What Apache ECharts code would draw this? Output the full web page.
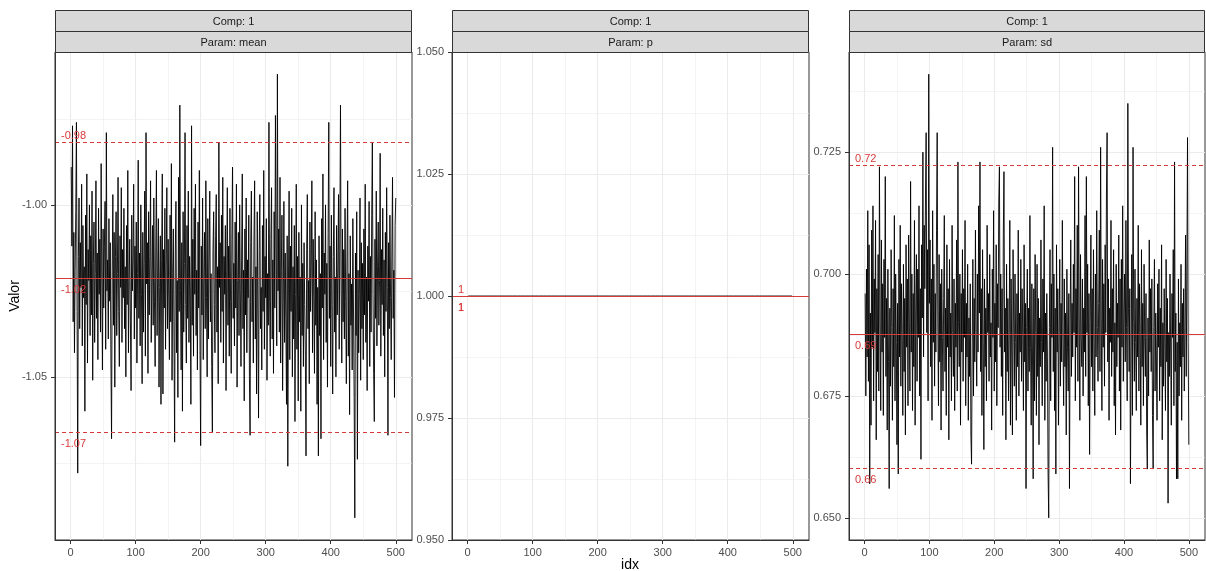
<!DOCTYPE html>
<html>
<head>
<meta charset="utf-8">
<script src="https://cdn.jsdelivr.net/npm/echarts@6/dist/echarts.min.js"></script>
<style>
  html, body { margin: 0; padding: 0; background: #ffffff; }
  #chart { width: 1206px; height: 571px; }
</style>
</head>
<body>
<div id="chart"></div>
<script>
// MCMC trace of component 1: one facet per parameter.
const stripTitle = 'Comp: 1';
const paramNames = ['mean', 'p', 'sd'];

// Draws of the "mean" parameter, iterations 1..500
const meanTrace = [
  -0.989, -1.012, -0.977, -1.034, -1.008, -1.043, -1.019, -1.002, -0.976, -1.031,
  -1.078, -1.015, -0.998, -1.036, -1.011, -1.024, -0.994, -1.041, -1.006, -1.027,
  -1.018, -1.060, -1.003, -1.029, -0.991, -1.046, -1.013, -1.022, -1.000, -1.038,
  -1.009, -1.032, -0.996, -1.051, -1.017, -1.005, -1.040, -1.020, -0.993, -1.033,
  -1.014, -1.045, -1.001, -1.026, -1.010, -1.037, -0.988, -1.021, -1.048, -1.007,
  -1.030, -1.012, -0.999, -1.042, -0.979, -1.025, -1.016, -1.039, -1.004, -1.028,
  -1.011, -1.044, -1.068, -1.019, -0.997, -1.035, -1.008, -1.053, -1.015, -1.002,
  -1.038, -1.020, -0.992, -1.031, -1.047, -1.009, -1.024, -0.995, -1.040, -1.013,
  -1.027, -1.001, -1.036, -1.018, -1.050, -1.006, -1.029, -0.990, -1.043, -1.022,
  -1.010, -1.034, -1.054, -1.003, -1.025, -1.016, -0.994, -1.039, -1.012, -1.030,
  -1.005, -1.046, -1.020, -0.987, -1.033, -1.014, -1.041, -1.000, -1.026, -1.052,
  -1.008, -1.037, -1.017, -0.996, -1.044, -0.979, -1.023, -1.011, -1.049, -1.002,
  -1.032, -1.015, -0.993, -1.040, -1.021, -1.006, -1.035, -0.998, -1.028, -1.047,
  -1.012, -0.990, -1.038, -1.019, -1.004, -1.053, -1.024, -1.009, -1.058, -1.016,
  -0.991, -1.055, -1.013, -1.030, -1.001, -1.042, -1.018, -0.995, -1.036, -1.010,
  -1.027, -1.045, -1.003, -1.034, -0.988, -1.051, -1.020, -1.007, -1.039, -1.069,
  -1.014, -0.999, -1.043, -1.022, -1.056, -0.992, -1.031, -0.971, -1.025, -1.048,
  -1.011, -1.060, -1.002, -1.037, -1.017, -0.979, -1.029, -1.046, -1.006, -1.033,
  -0.996, -1.040, -1.015, -1.024, -1.058, -0.977, -1.035, -1.010, -1.044, -1.001,
  -1.026, -0.994, -1.038, -1.019, -1.048, -1.005, -1.030, -0.990, -1.042, -1.070,
  -1.012, -1.032, -0.998, -1.045, -1.021, -1.008, -1.036, -0.993, -1.027, -1.050,
  -1.004, -1.039, -1.016, -0.996, -1.034, -1.020, -1.047, -1.066, -1.013, -1.002,
  -1.029, -1.043, -1.009, -0.997, -1.037, -1.018, -1.052, -0.982, -1.024, -1.011,
  -1.040, -1.003, -1.031, -0.992, -1.046, -1.015, -1.026, -1.006, -1.054, -1.019,
  -0.995, -1.035, -1.012, -1.044, -1.001, -1.028, -1.049, -1.010, -0.989, -1.033,
  -1.017, -1.041, -1.005, -1.030, -0.994, -1.053, -1.022, -1.008, -1.038, -1.000,
  -1.025, -1.047, -1.014, -0.991, -1.036, -1.019, -1.057, -1.007, -1.032, -0.998,
  -1.043, -1.016, -1.027, -1.003, -1.050, -1.067, -1.011, -0.996, -1.034, -1.021,
  -1.046, -1.009, -0.993, -1.039, -1.018, -1.055, -1.002, -1.030, -1.062, -1.013,
  -0.997, -1.036, -1.024, -1.048, -1.006, -1.031, -0.990, -1.042, -1.015, -1.027,
  -1.004, -1.051, -1.020, -1.035, -0.976, -1.028, -1.044, -1.010, -0.995, -1.039,
  -1.016, -1.049, -1.002, -1.030, -0.974, -1.012, -1.041, -0.962, -1.025, -1.007,
  -1.037, -0.992, -1.046, -1.019, -1.003, -1.054, -1.028, -0.999, -1.040, -1.014,
  -1.033, -1.058, -1.009, -1.076, -1.023, -0.996, -1.045, -1.012, -1.031, -1.001,
  -1.050, -1.018, -1.039, -1.006, -1.063, -1.026, -0.994, -1.042, -1.015, -1.057,
  -1.008, -1.034, -1.021, -1.060, -1.000, -1.038, -1.017, -1.047, -1.011, -1.029,
  -1.044, -1.073, -1.013, -0.997, -1.036, -1.022, -1.052, -1.005, -1.031, -1.018,
  -0.993, -1.043, -1.010, -1.027, -1.049, -1.002, -1.035, -1.016, -1.058, -1.024,
  -1.073, -1.009, -1.038, -1.020, -1.068, -1.004, -1.030, -0.991, -1.045, -1.014,
  -1.026, -1.000, -1.040, -1.017, -1.053, -1.008, -0.976, -1.033, -1.012, -1.047,
  -1.003, -1.029, -1.055, -1.015, -0.995, -1.037, -1.021, -1.050, -1.006, -1.032,
  -1.018, -0.997, -1.042, -1.010, -0.971, -1.025, -1.046, -1.007, -1.034, -1.013,
  -1.039, -1.001, -1.028, -1.052, -1.016, -0.993, -1.044, -1.020, -1.061, -1.009,
  -1.035, -1.023, -1.048, -1.004, -1.030, -1.056, -1.091, -1.014, -1.038, -1.002,
  -1.074, -1.019, -1.043, -1.026, -0.998, -1.051, -1.011, -1.036, -1.017, -1.045,
  -1.007, -1.032, -0.994, -1.040, -1.021, -1.054, -1.012, -1.028, -0.999, -1.047,
  -1.015, -1.037, -1.003, -0.982, -1.026, -1.049, -1.063, -1.010, -1.033, -0.996,
  -1.041, -1.018, -1.005, -1.035, -1.022, -0.985, -1.044, -1.013, -1.029, -1.001,
  -1.038, -1.016, -1.050, -1.008, -1.031, -0.995, -1.024, -1.067, -1.011, -1.036,
  -1.003, -1.027, -1.045, -1.014, -0.992, -1.033, -1.019, -1.056, -1.006, -0.998
];

// Draws of the mixing weight "p" (single component, so always 1)
const pTrace = [
  1,1,1,1,1,1,1,1,1,1,1,1,1,1,1,1,1,1,1,1,1,1,1,1,1,1,1,1,1,1,1,1,1,1,1,1,1,1,1,1,1,1,1,1,1,1,1,1,1,1,
  1,1,1,1,1,1,1,1,1,1,1,1,1,1,1,1,1,1,1,1,1,1,1,1,1,1,1,1,1,1,1,1,1,1,1,1,1,1,1,1,1,1,1,1,1,1,1,1,1,1,
  1,1,1,1,1,1,1,1,1,1,1,1,1,1,1,1,1,1,1,1,1,1,1,1,1,1,1,1,1,1,1,1,1,1,1,1,1,1,1,1,1,1,1,1,1,1,1,1,1,1,
  1,1,1,1,1,1,1,1,1,1,1,1,1,1,1,1,1,1,1,1,1,1,1,1,1,1,1,1,1,1,1,1,1,1,1,1,1,1,1,1,1,1,1,1,1,1,1,1,1,1,
  1,1,1,1,1,1,1,1,1,1,1,1,1,1,1,1,1,1,1,1,1,1,1,1,1,1,1,1,1,1,1,1,1,1,1,1,1,1,1,1,1,1,1,1,1,1,1,1,1,1,
  1,1,1,1,1,1,1,1,1,1,1,1,1,1,1,1,1,1,1,1,1,1,1,1,1,1,1,1,1,1,1,1,1,1,1,1,1,1,1,1,1,1,1,1,1,1,1,1,1,1,
  1,1,1,1,1,1,1,1,1,1,1,1,1,1,1,1,1,1,1,1,1,1,1,1,1,1,1,1,1,1,1,1,1,1,1,1,1,1,1,1,1,1,1,1,1,1,1,1,1,1,
  1,1,1,1,1,1,1,1,1,1,1,1,1,1,1,1,1,1,1,1,1,1,1,1,1,1,1,1,1,1,1,1,1,1,1,1,1,1,1,1,1,1,1,1,1,1,1,1,1,1,
  1,1,1,1,1,1,1,1,1,1,1,1,1,1,1,1,1,1,1,1,1,1,1,1,1,1,1,1,1,1,1,1,1,1,1,1,1,1,1,1,1,1,1,1,1,1,1,1,1,1,
  1,1,1,1,1,1,1,1,1,1,1,1,1,1,1,1,1,1,1,1,1,1,1,1,1,1,1,1,1,1,1,1,1,1,1,1,1,1,1,1,1,1,1,1,1,1,1,1,1,1
];

// Draws of the "sd" parameter, iterations 1..500
const sdTrace = [
  0.696, 0.675, 0.701, 0.683, 0.713, 0.678, 0.706, 0.657, 0.692, 0.669,
  0.709, 0.685, 0.714, 0.674, 0.699, 0.688, 0.711, 0.666, 0.697, 0.680,
  0.704, 0.676, 0.722, 0.690, 0.672, 0.707, 0.684, 0.698, 0.671, 0.703,
  0.687, 0.720, 0.679, 0.695, 0.668, 0.701, 0.682, 0.656, 0.693, 0.677,
  0.705, 0.689, 0.670, 0.697, 0.681, 0.712, 0.674, 0.700, 0.686, 0.665,
  0.694, 0.659, 0.703, 0.683, 0.710, 0.677, 0.698, 0.688, 0.671, 0.702,
  0.680, 0.695, 0.667, 0.706, 0.685, 0.699, 0.673, 0.708, 0.690, 0.676,
  0.719, 0.684, 0.700, 0.672, 0.696, 0.681, 0.711, 0.669, 0.693, 0.704,
  0.678, 0.701, 0.687, 0.714, 0.675, 0.697, 0.662, 0.706, 0.691, 0.725,
  0.683, 0.710, 0.697, 0.716, 0.729, 0.688, 0.705, 0.674, 0.741, 0.694,
  0.707, 0.681, 0.699, 0.670, 0.713, 0.686, 0.702, 0.677, 0.696, 0.684,
  0.709, 0.729, 0.690, 0.673, 0.704, 0.682, 0.698, 0.668, 0.701, 0.687,
  0.676, 0.695, 0.712, 0.680, 0.693, 0.671, 0.706, 0.685, 0.697, 0.666,
  0.703, 0.683, 0.692, 0.674, 0.710, 0.688, 0.679, 0.699, 0.672, 0.694,
  0.685, 0.707, 0.676, 0.723, 0.690, 0.681, 0.700, 0.669, 0.696, 0.684,
  0.705, 0.678, 0.697, 0.687, 0.711, 0.673, 0.694, 0.683, 0.702, 0.670,
  0.691, 0.679, 0.698, 0.667, 0.661, 0.686, 0.703, 0.675, 0.695, 0.682,
  0.709, 0.688, 0.677, 0.700, 0.684, 0.714, 0.692, 0.723, 0.680, 0.697,
  0.671, 0.705, 0.686, 0.664, 0.699, 0.681, 0.693, 0.674, 0.710, 0.688,
  0.696, 0.678, 0.704, 0.683, 0.690, 0.668, 0.701, 0.687, 0.713, 0.676,
  0.694, 0.682, 0.706, 0.673, 0.698, 0.689, 0.715, 0.722, 0.685, 0.700,
  0.679, 0.697, 0.671, 0.708, 0.721, 0.684, 0.693, 0.666, 0.702, 0.680,
  0.695, 0.674, 0.688, 0.711, 0.669, 0.699, 0.683, 0.667, 0.705, 0.690,
  0.677, 0.700, 0.686, 0.670, 0.696, 0.681, 0.709, 0.675, 0.692, 0.684,
  0.703, 0.678, 0.697, 0.687, 0.672, 0.706, 0.682, 0.694, 0.656, 0.689,
  0.701, 0.676, 0.693, 0.680, 0.712, 0.685, 0.669, 0.698, 0.683, 0.658,
  0.697, 0.674, 0.704, 0.688, 0.671, 0.702, 0.679, 0.695, 0.665, 0.691,
  0.681, 0.707, 0.686, 0.673, 0.699, 0.684, 0.714, 0.670, 0.692, 0.678,
  0.696, 0.683, 0.659, 0.650, 0.689, 0.705, 0.674, 0.698, 0.687, 0.726,
  0.680, 0.700, 0.672, 0.693, 0.659, 0.706, 0.684, 0.697, 0.669, 0.688,
  0.703, 0.677, 0.694, 0.682, 0.711, 0.686, 0.673, 0.699, 0.681, 0.692,
  0.667, 0.701, 0.685, 0.676, 0.696, 0.656, 0.690, 0.707, 0.679, 0.694,
  0.683, 0.702, 0.688, 0.720, 0.674, 0.697, 0.685, 0.710, 0.678, 0.722,
  0.691, 0.670, 0.704, 0.687, 0.681, 0.699, 0.675, 0.693, 0.684, 0.712,
  0.679, 0.720, 0.688, 0.702, 0.673, 0.696, 0.663, 0.690, 0.708, 0.681,
  0.697, 0.676, 0.705, 0.686, 0.671, 0.700, 0.683, 0.713, 0.689, 0.678,
  0.694, 0.709, 0.680, 0.726, 0.691, 0.672, 0.703, 0.685, 0.698, 0.677,
  0.706, 0.688, 0.716, 0.729, 0.682, 0.699, 0.670, 0.693, 0.686, 0.711,
  0.679, 0.697, 0.684, 0.705, 0.673, 0.690, 0.667, 0.702, 0.681, 0.694,
  0.687, 0.708, 0.676, 0.699, 0.668, 0.703, 0.685, 0.714, 0.678, 0.692,
  0.700, 0.682, 0.711, 0.689, 0.674, 0.735, 0.693, 0.680, 0.697, 0.657,
  0.685, 0.704, 0.671, 0.726, 0.690, 0.678, 0.701, 0.686, 0.672, 0.695,
  0.683, 0.710, 0.676, 0.698, 0.688, 0.669, 0.705, 0.681, 0.694, 0.673,
  0.702, 0.687, 0.679, 0.696, 0.668, 0.660, 0.691, 0.675, 0.707, 0.684,
  0.697, 0.680, 0.699, 0.671, 0.660, 0.689, 0.703, 0.676, 0.692, 0.683,
  0.670, 0.698, 0.685, 0.701, 0.674, 0.693, 0.681, 0.706, 0.666, 0.690,
  0.677, 0.697, 0.686, 0.672, 0.703, 0.682, 0.695, 0.653, 0.688, 0.679,
  0.700, 0.684, 0.669, 0.696, 0.687, 0.705, 0.673, 0.723, 0.680, 0.692,
  0.658, 0.686, 0.658, 0.699, 0.675, 0.690, 0.681, 0.702, 0.670, 0.694,
  0.683, 0.697, 0.676, 0.689, 0.708, 0.679, 0.700, 0.728, 0.686, 0.665
];

// Summary lines per parameter: [upper quantile, mean, lower quantile]
const meanRefs = [-0.9819, -1.0214, -1.0661];
const pRefs = [1, 1, 1];
const sdRefs = [0.7223, 0.6876, 0.6602];

// Tick values
const xTicks = [0, 100, 200, 300, 400, 500];
const meanTicks = [-1.05, -1.00];
const pTicks = [0.950, 0.975, 1.000, 1.025, 1.050];
const sdTicks = [0.650, 0.675, 0.700, 0.725];

const FONT = '"Liberation Sans", Arial, Helvetica, sans-serif';
const RED = '#d83a3a';
const GRID_COL = '#ebebeb';
const INK = '#333333';
const N = meanTrace.length;
const iterations = Array.from({ length: N }, (_, i) => i + 1);

const TOP = 52, HEIGHT = 488, STRIP_H = 21;
const layout = [
  { left: 55, width: 357 },
  { left: 452, width: 357 },
  { left: 849, width: 356 }
];

const panels = [
  { values: meanTrace, refs: meanRefs, ticks: meanTicks, digits: 2 },
  { values: pTrace, refs: pRefs, ticks: pTicks, digits: 3 },
  { values: sdTrace, refs: sdRefs, ticks: sdTicks, digits: 3 }
];

// ggplot-style continuous expansion: 5% of the data range on each side
function expandRange(vals) {
  let lo = Math.min(...vals), hi = Math.max(...vals);
  if (hi === lo) return [lo * 0.95, hi * 1.05];
  const pad = (hi - lo) * 0.05;
  return [lo - pad, hi + pad];
}
const xRange = expandRange(iterations);

// minor grid positions half-way between major ticks, kept inside the range
function minorsOf(ticks, range) {
  const step = ticks[1] - ticks[0];
  const out = [];
  for (let v = ticks[0] - step / 2; v <= range[1] + 1e-12; v += step) {
    if (v >= range[0]) out.push(+v.toFixed(6));
  }
  return out;
}
function majorsOf(ticks, range) {
  return ticks.filter(v => v >= range[0] && v <= range[1]);
}

const refLabel = v => String(+v.toFixed(2));

const grids = [], xAxes = [], yAxes = [], series = [], graphics = [];

panels.forEach((p, i) => {
  const L = layout[i];
  const yRange = expandRange(p.values);

  grids.push({
    left: L.left, top: TOP, width: L.width, height: HEIGHT,
    show: true, borderColor: INK, borderWidth: 1, backgroundColor: 'transparent'
  });

  const axisTextStyle = { color: '#4d4d4d', fontSize: 11, fontFamily: FONT };

  xAxes.push({
    type: 'value', gridIndex: i, min: xRange[0], max: xRange[1], z: 5,
    axisLine: { show: true, onZero: false, lineStyle: { color: INK, width: 1 } },
    axisTick: { show: true, inside: false, length: 4, customValues: xTicks, lineStyle: { color: INK, width: 1 } },
    axisLabel: Object.assign({ customValues: xTicks, margin: 7, formatter: v => String(v) }, axisTextStyle),
    splitLine: { show: false }
  });

  yAxes.push({
    type: 'value', gridIndex: i, min: yRange[0], max: yRange[1], z: 5,
    axisLine: { show: true, onZero: false, lineStyle: { color: INK, width: 1 } },
    axisTick: { show: true, inside: false, length: 4, customValues: p.ticks, lineStyle: { color: INK, width: 1 } },
    axisLabel: Object.assign({ customValues: p.ticks, margin: 8, formatter: v => v.toFixed(p.digits) }, axisTextStyle),
    splitLine: { show: false }
  });

  // background grid
  const gl = [];
  majorsOf(xTicks, xRange).forEach(v => gl.push({ xAxis: v, lineStyle: { color: GRID_COL, width: 1.1, type: 'solid' } }));
  minorsOf(xTicks, xRange).forEach(v => gl.push({ xAxis: v, lineStyle: { color: GRID_COL, width: 0.55, type: 'solid' } }));
  majorsOf(p.ticks, yRange).forEach(v => gl.push({ yAxis: v, lineStyle: { color: GRID_COL, width: 1.1, type: 'solid' } }));
  minorsOf(p.ticks, yRange).forEach(v => gl.push({ yAxis: v, lineStyle: { color: GRID_COL, width: 0.55, type: 'solid' } }));
  series.push({
    type: 'line', xAxisIndex: i, yAxisIndex: i, data: [], z: 1, silent: true,
    markLine: { z: 1, precision: 6, silent: true, symbol: 'none', animation: false, label: { show: false }, data: gl }
  });

  // trace
  series.push({
    type: 'line', xAxisIndex: i, yAxisIndex: i, z: 2, silent: true,
    data: iterations.map((x, k) => [x, p.values[k]]),
    showSymbol: false, symbol: 'none',
    lineStyle: { color: '#000000', width: 0.9 }
  });

  // quantile and mean lines with rounded value labels
  const lblBase = { show: true, color: RED, fontSize: 11, fontFamily: FONT, formatter: q => refLabel(q.value) };
  series.push({
    type: 'line', xAxisIndex: i, yAxisIndex: i, data: [], z: 3, silent: true,
    markLine: {
      z: 3, precision: 6, silent: true, symbol: 'none', animation: false,
      data: [
        { yAxis: p.refs[0], lineStyle: { color: RED, width: 1, type: [4, 3] },
          label: Object.assign({ position: 'insideStartTop', distance: [6, 1] }, lblBase) },
        { yAxis: p.refs[1], lineStyle: { color: RED, width: 1.1, type: 'solid' },
          label: Object.assign({ position: 'insideStartBottom', distance: [6, 6] }, lblBase) },
        { yAxis: p.refs[2], lineStyle: { color: RED, width: 1, type: [4, 3] },
          label: Object.assign({ position: 'insideStartBottom', distance: [6, 6] }, lblBase) }
      ]
    }
  });

  // facet strips
  [stripTitle, 'Param: ' + paramNames[i]].forEach((txt, r) => {
    const y0 = TOP - STRIP_H * (2 - r);
    graphics.push({
      type: 'rect', z: 10,
      shape: { x: L.left + 0.5, y: y0 + 0.5, width: L.width - 1, height: STRIP_H },
      style: { fill: '#d9d9d9', stroke: INK, lineWidth: 1 }
    });
    graphics.push({
      type: 'text', z: 11,
      x: L.left + L.width / 2, y: y0 + STRIP_H / 2 + 1,
      style: { text: txt, fill: '#1a1a1a', font: '11px ' + FONT, textAlign: 'center', textVerticalAlign: 'middle' }
    });
  });
});

// axis titles shared by the facets
graphics.push({
  type: 'text', x: 15, y: TOP + HEIGHT / 2, rotation: Math.PI / 2,
  style: { text: 'Valor', fill: '#000000', font: '14px ' + FONT, textAlign: 'center', textVerticalAlign: 'middle' }
});
graphics.push({
  type: 'text', x: (layout[0].left + layout[2].left + layout[2].width) / 2, y: 565,
  style: { text: 'idx', fill: '#000000', font: '14px ' + FONT, textAlign: 'center', textVerticalAlign: 'middle' }
});

const chart = echarts.init(document.getElementById('chart'), null, { renderer: 'canvas' });
chart.setOption({
  animation: false,
  backgroundColor: '#ffffff',
  grid: grids,
  xAxis: xAxes,
  yAxis: yAxes,
  series: series,
  graphic: graphics
});
</script>
</body>
</html>
